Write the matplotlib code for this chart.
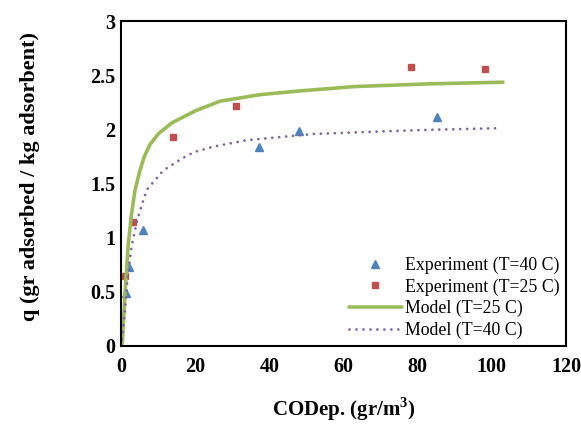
import matplotlib
matplotlib.use("Agg")
import matplotlib.pyplot as plt
from matplotlib.ticker import MultipleLocator

plt.rcParams['font.family'] = ['Liberation Serif', 'DejaVu Serif']
plt.rcParams['mathtext.fontset'] = 'custom'
plt.rcParams['mathtext.rm'] = 'Liberation Serif'
plt.rcParams['mathtext.bf'] = 'Liberation Serif:bold'

# Experimental isotherm points
exp40_c = [1.3, 2.2, 6.0, 37.1, 48.1, 85.1]
exp40_q = [0.49, 0.73, 1.07, 1.84, 1.985, 2.11]
exp25_c = [1.0, 3.3, 14.1, 31.0, 78.1, 98.2]
exp25_q = [0.65, 1.14, 1.93, 2.22, 2.58, 2.56]

# Model curves
mod25_c = [0, 0.35, 1.08, 1.98, 2.8, 3.78, 5.1, 6.3, 7.8, 10.1, 13.7, 20.0,
           26.7, 37.5, 48.3, 63.1, 83.3, 103.0]
mod25_q = [0, 0.03, 0.49, 0.95, 1.21, 1.44, 1.62, 1.75, 1.86, 1.96, 2.06, 2.17,
           2.26, 2.32, 2.355, 2.395, 2.42, 2.435]
mod40_c = [0, 0.35, 1.08, 1.7, 2.9, 4.5, 6.9, 11.4, 16.4, 19.7, 24.9, 33.9,
           46.5, 51.9, 69.8, 82.4, 101.0]
mod40_q = [0, 0.09, 0.33, 0.61, 0.93, 1.18, 1.44, 1.62, 1.73, 1.79, 1.84, 1.90,
           1.94, 1.957, 1.98, 1.995, 2.01]

fig = plt.figure(figsize=(5.81, 4.26), dpi=100)
ax = fig.add_axes([0.2083, 0.1878, 0.7659, 0.7629])

ax.plot(exp40_c, exp40_q, linestyle='none', marker='^', ms=6, color='#4F81BD',
        label='Experiment (T=40 C)')
ax.plot(exp25_c, exp25_q, linestyle='none', marker='s', ms=4, color='#C0504D',
        label='Experiment (T=25 C)')
ax.plot(mod25_c, mod25_q, color='#9BBB59', lw=2.6, solid_capstyle='round',
        label='Model (T=25 C)')
ax.plot(mod40_c, mod40_q, color='#8064A2', lw=2.0, linestyle=(0, (0.01, 2.5)),
        dash_capstyle='round', label='Model (T=40 C)')

ax.set_xlim(0, 120)
ax.set_ylim(0, 3)
ax.xaxis.set_major_locator(MultipleLocator(20))
ax.yaxis.set_major_locator(MultipleLocator(0.5))
ax.yaxis.set_major_formatter(plt.FuncFormatter(lambda v, p: f"{v:g}"))
ax.tick_params(axis='x', length=0, pad=8)
ax.tick_params(axis='y', length=0, pad=4)
for lab in ax.get_xticklabels() + ax.get_yticklabels():
    lab.set_fontweight('bold')
    lab.set_fontsize(14.5)
for s in ax.spines.values():
    s.set_linewidth(1.5)
    s.set_color('black')

ax.set_xlabel('CODep. (gr/m$^\\mathbf{3}$)', fontsize=15, fontweight='bold', labelpad=13)
ax.set_ylabel('q (gr adsorbed / kg adsorbent)', fontsize=16, fontweight='bold')
ax.yaxis.set_label_coords(-0.181, 0.52)

leg = ax.legend(loc='lower right', bbox_to_anchor=(1.009, -0.012), frameon=False,
                fontsize=12.8, handlelength=3.0, handletextpad=0.15, labelspacing=0.25,
                borderaxespad=0.2)

fig.savefig('out.png', dpi=100)
